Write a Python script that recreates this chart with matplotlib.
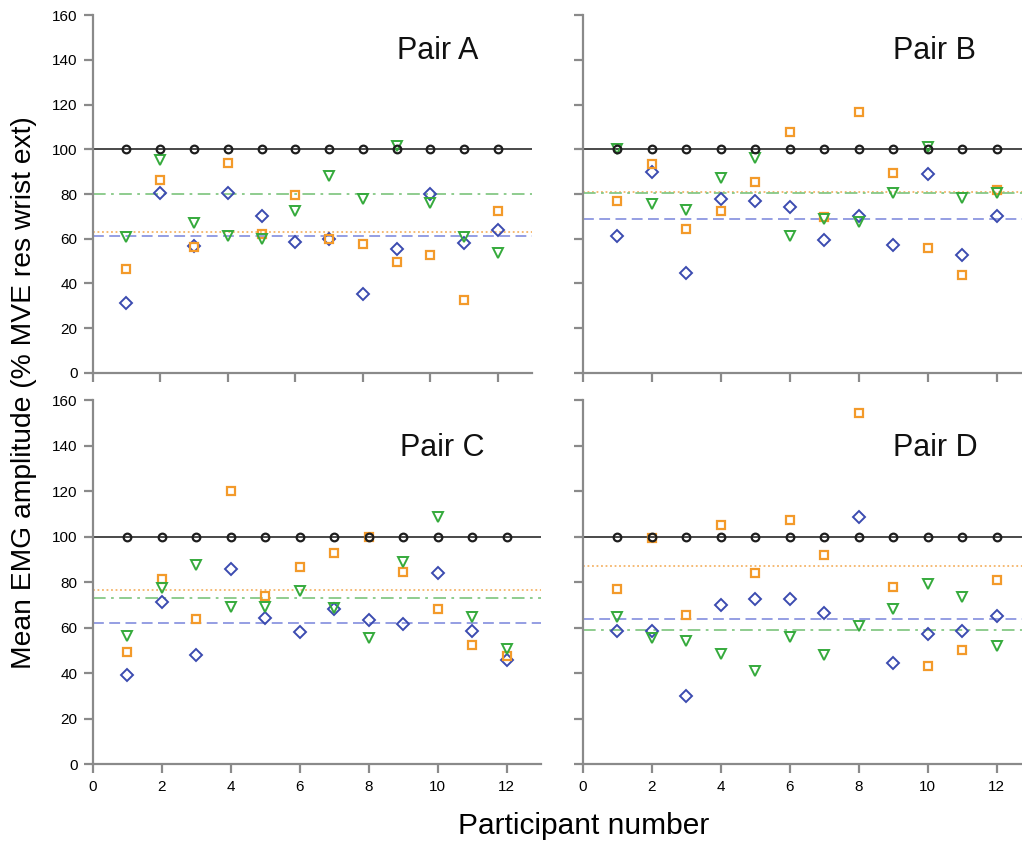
import matplotlib
matplotlib.use("Agg")
import matplotlib.pyplot as plt

plt.rcParams['font.family'] = ['Liberation Sans', 'DejaVu Sans']

participants = list(range(1, 13))
reference = [100] * 12

# Pair A
a_blue = [31.3, 80.6, 56.9, 80.6, 70.1, 58.5, 59.7, 35.2, 55.5, 79.9, 58.2, 63.7]
a_orange = [46.3, 86.3, 56.4, 93.7, 62.1, 79.7, 60.0, 57.5, 49.7, 52.8, 32.4, 72.5]
a_green = [60.6, 95.2, 66.9, 61.3, 59.7, 72.4, 88.2, 77.9, 101.5, 75.8, 60.9, 53.6]
# Pair B
b_blue = [61.0, 89.9, 44.6, 77.8, 76.9, 74.0, 59.6, 70.3, 57.0, 89.0, 52.7, 70.0]
b_orange = [76.7, 93.4, 64.3, 72.4, 85.5, 107.6, 69.6, 116.6, 89.4, 55.7, 43.7, 81.6]
b_green = [100.0, 75.5, 72.7, 87.2, 96.3, 61.0, 68.8, 67.5, 80.6, 100.9, 78.2, 80.3]
# Pair C
c_blue = [39.2, 71.2, 48.0, 85.9, 64.1, 58.0, 68.2, 63.3, 61.8, 84.0, 58.7, 46.0]
c_orange = [49.3, 81.3, 63.8, 119.9, 73.8, 86.7, 92.7, 100.0, 84.5, 68.4, 52.3, 47.7]
c_green = [56.4, 77.6, 87.6, 69.1, 69.3, 76.0, 68.7, 55.3, 88.9, 108.8, 64.7, 50.8]
# Pair D
d_blue = [58.7, 58.7, 29.9, 70.0, 72.6, 72.6, 66.3, 108.6, 44.7, 57.4, 58.6, 65.2]
d_orange = [77.2, 99.6, 65.6, 105.3, 84.2, 107.3, 91.8, 154.5, 77.9, 43.0, 50.4, 81.0]
d_green = [64.7, 55.5, 54.0, 48.3, 41.0, 56.1, 47.9, 60.8, 68.4, 79.1, 73.6, 52.1]

# mean lines per pair: blue, orange, green
mean_blue = [61.0, 69.0, 62.1, 63.8]
mean_orange = [63.1, 81.0, 76.6, 87.1]
mean_green = [79.9, 80.4, 73.1, 59.0]

pair_names = ["Pair A", "Pair B", "Pair C", "Pair D"]
blues = [a_blue, b_blue, c_blue, d_blue]
oranges = [a_orange, b_orange, c_orange, d_orange]
greens = [a_green, b_green, c_green, d_green]

W, H = 1022, 841
fig = plt.figure(figsize=(W / 100, H / 100), dpi=100)

# axes boxes in pixels: left, width, bottom (px from top), top (px from top)
boxes = [
    (92.7, 439.0, 372.7, 15.3),
    (582.7, 448.5, 372.7, 15.3),
    (92.7, 448.5, 764.3, 400.0),
    (582.7, 448.5, 764.3, 400.0),
]
label_y = [144, 144, 139, 139]

spine_col = "#8a8a8a"
for i in range(4):
    left, width, bot, top = boxes[i]
    ax = fig.add_axes([left / W, 1 - bot / H, width / W, (bot - top) / H])
    ax.set_xlim(0, 13)
    ax.set_ylim(0, 160)
    for s in ["top", "right"]:
        ax.spines[s].set_visible(False)
    for s in ["left", "bottom"]:
        ax.spines[s].set_color(spine_col)
        ax.spines[s].set_linewidth(1.6)
    ax.set_xticks(range(0, 13, 2))
    ax.set_yticks(range(0, 161, 20))
    ax.tick_params(direction="out", length=6.5, width=1.6, color=spine_col,
                   labelsize=11, pad=4.5)
    if i % 2 == 1:
        ax.tick_params(labelleft=False)
    if i < 2:
        ax.tick_params(labelbottom=False)

    ax.axhline(100, color="#3a3a3a", lw=1.3, zorder=2)
    ax.axhline(mean_blue[i], color="#8c96e0", lw=1.3, ls=(0, (6, 3)), zorder=1)
    ax.axhline(mean_orange[i], color="#f5b468", lw=1.3, ls=(0, (1, 1.5)), zorder=1)
    ax.axhline(mean_green[i], color="#86c886", lw=1.3, ls=(0, (7, 3, 1.5, 3)), zorder=1)

    ax.plot(participants, blues[i], ls="none", marker="D", ms=6, mfc="none",
            mec="#3b4bb0", mew=1.4, zorder=3, clip_on=False)
    ax.plot(participants, oranges[i], ls="none", marker="s", ms=6, mfc="none",
            mec="#f39a2a", mew=1.6, zorder=3, clip_on=False)
    ax.plot(participants, greens[i], ls="none", marker="v", ms=6.5, mfc="none",
            mec="#35aa3c", mew=1.4, zorder=3, clip_on=False)
    ax.plot(participants, reference, ls="none", marker="o", ms=5.5, mfc="none",
            mec="#1e1e1e", mew=1.6, zorder=4, clip_on=False)

    ax.text(9.0 if i != 2 else 8.9, label_y[i], pair_names[i], fontsize=22,
            ha="left", va="center", color="#111111")

fig.text(24 / W, 1 - 393 / H, "Mean EMG amplitude (% MVE res wrist ext)",
         rotation=90, ha="center", va="center", fontsize=20.3)
fig.text(584 / W, 1 - 826 / H, "Participant number", ha="center", va="center",
         fontsize=21.5)

fig.savefig("out.png", dpi=100)
